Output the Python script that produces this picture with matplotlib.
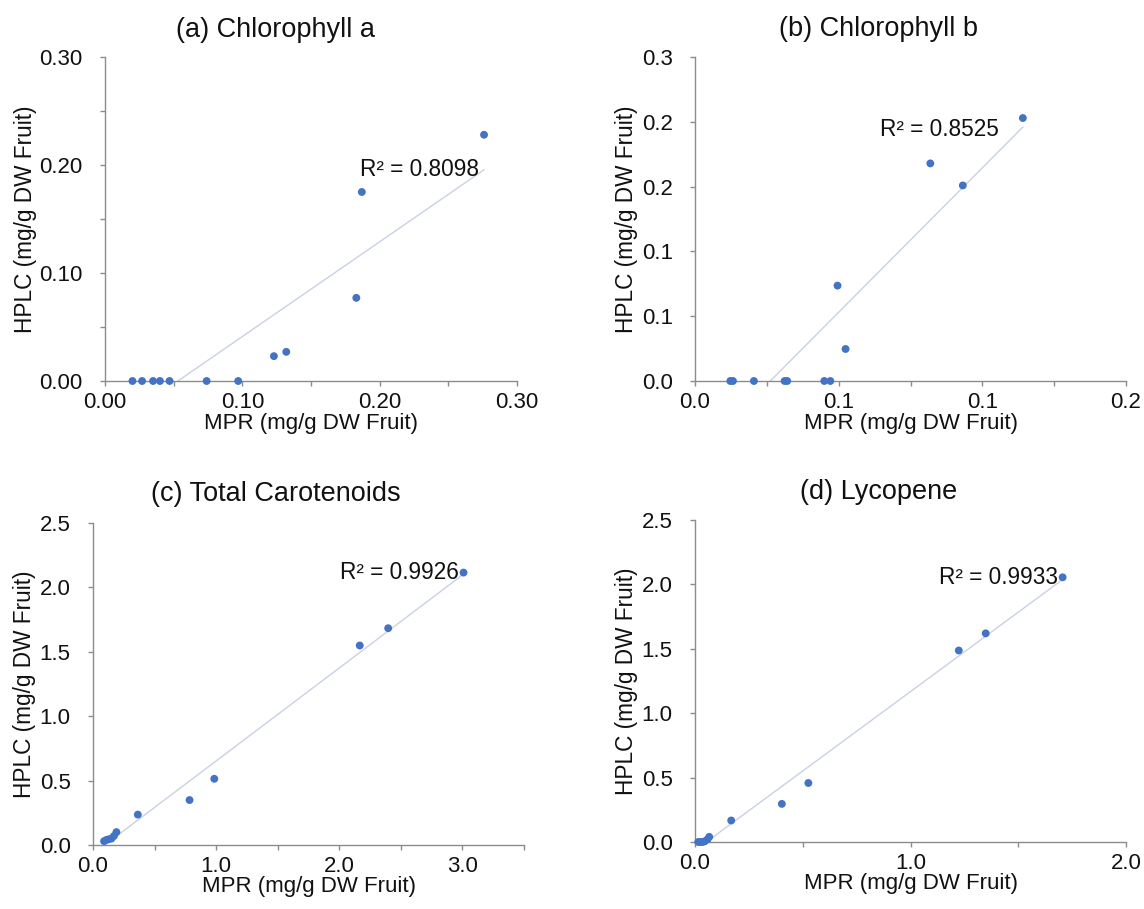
import numpy as np
import matplotlib
matplotlib.use("Agg")
import matplotlib.pyplot as plt
from matplotlib.ticker import FixedLocator

plt.rcParams['font.family'] = ['Liberation Sans', 'DejaVu Sans']

# ---- data ----
titles = ["(a) Chlorophyll a", "(b) Chlorophyll b", "(c) Total Carotenoids", "(d) Lycopene"]
r2_texts = ["R² = 0.8098", "R² = 0.8525", "R² = 0.9926", "R² = 0.9933"]
xlabel = "MPR (mg/g DW Fruit)"
ylabel = "HPLC (mg/g DW Fruit)"

mpr_a = [0.020, 0.027, 0.035, 0.040, 0.047, 0.074, 0.097, 0.123, 0.132, 0.183, 0.187, 0.276]
hplc_a = [0.0, 0.0, 0.0, 0.0, 0.0, 0.0, 0.0, 0.023, 0.027, 0.077, 0.175, 0.228]

mpr_b = [0.0123, 0.0132, 0.0205, 0.0312, 0.0321, 0.0450, 0.0471, 0.0496, 0.0524, 0.0819, 0.0932, 0.1141]
hplc_b = [0.0, 0.0, 0.0, 0.0, 0.0, 0.0, 0.0, 0.0736, 0.0247, 0.1679, 0.1509, 0.2029]

mpr_c = [0.09, 0.11, 0.13, 0.15, 0.17, 0.19, 0.364, 0.784, 0.985, 2.166, 2.397, 3.009]
hplc_c = [0.03, 0.04, 0.045, 0.05, 0.07, 0.10, 0.236, 0.349, 0.514, 1.549, 1.683, 2.115]

mpr_d = [0.015, 0.025, 0.035, 0.045, 0.058, 0.066, 0.168, 0.403, 0.526, 1.224, 1.349, 1.706]
hplc_d = [0.0, 0.0, 0.0, 0.005, 0.02, 0.04, 0.167, 0.296, 0.458, 1.487, 1.620, 2.055]

# tick definitions
xt_a = [0.0, 0.10, 0.20, 0.30]; xtl_a = ["0.00", "0.10", "0.20", "0.30"]; xm_a = [0.05, 0.15, 0.25]
yt_a = [0.0, 0.10, 0.20, 0.30]; ytl_a = ["0.00", "0.10", "0.20", "0.30"]; ym_a = [0.05, 0.15, 0.25]

xt_b = [0.0, 0.05, 0.10, 0.15]; xtl_b = ["0.0", "0.1", "0.1", "0.2"]; xm_b = [0.025, 0.075, 0.125]
yt_b = [0.0, 0.05, 0.10, 0.15, 0.20, 0.25]; ytl_b = ["0.0", "0.1", "0.1", "0.2", "0.2", "0.3"]; ym_b = []

xt_c = [0.0, 1.0, 2.0, 3.0]; xtl_c = ["0.0", "1.0", "2.0", "3.0"]; xm_c = [0.5, 1.5, 2.5, 3.5]
yt_c = [0.0, 0.5, 1.0, 1.5, 2.0, 2.5]; ytl_c = ["0.0", "0.5", "1.0", "1.5", "2.0", "2.5"]; ym_c = []

xt_d = [0.0, 1.0, 2.0]; xtl_d = ["0.0", "1.0", "2.0"]; xm_d = [0.5, 1.5]
yt_d = [0.0, 0.5, 1.0, 1.5, 2.0, 2.5]; ytl_d = ["0.0", "0.5", "1.0", "1.5", "2.0", "2.5"]; ym_d = []

W, H = 1144, 909
fig = plt.figure(figsize=(W / 100, H / 100), dpi=100)

# axes rectangles in pixel space (left, top, right, bottom)
rects = [(105, 57, 517, 381), (695, 57, 1126, 381), (93, 523, 524, 845), (695, 520, 1126, 842)]
xlims = [(0, 0.30), (0, 0.15), (0, 3.5), (0, 2.0)]
ylims = [(0, 0.30), (0, 0.25), (0, 2.5), (0, 2.5)]
datasets = [(mpr_a, hplc_a), (mpr_b, hplc_b), (mpr_c, hplc_c), (mpr_d, hplc_d)]
ticks = [(xt_a, xtl_a, xm_a, yt_a, ytl_a, ym_a), (xt_b, xtl_b, xm_b, yt_b, ytl_b, ym_b),
         (xt_c, xtl_c, xm_c, yt_c, ytl_c, ym_c), (xt_d, xtl_d, xm_d, yt_d, ytl_d, ym_d)]
r2_pos = [(0.1858, 0.1956, 'left'), (0.0645, 0.1944, 'left'), (2.97, 2.115, 'right'), (1.684, 2.05, 'right')]
title_x = [0.413, 0.425, 0.424, 0.425]
title_y = [1.083, 1.086, 1.090, 1.086]
ylab_x = [-0.194, -0.160, -0.160, -0.160]
xlab_pad = [0, 0, -1, -1]

spine_c = '#8c8c8c'
pt_c = '#4472C4'
line_c = '#c9d1e3'
txt_c = '#111111'

for i in range(4):
    l, t, r, b = rects[i]
    ax = fig.add_axes([l / W, (H - b) / H, (r - l) / W, (b - t) / H])
    x, y = np.array(datasets[i][0]), np.array(datasets[i][1])
    k, c0 = np.polyfit(x, y, 1)
    xs = np.array([x.min(), x.max()])
    ax.plot(xs, k * xs + c0, color=line_c, lw=1.0, zorder=2)
    ax.scatter(x, y, s=32, color=pt_c, edgecolors='none', zorder=3, clip_on=False)
    ax.set_xlim(*xlims[i]); ax.set_ylim(*ylims[i])
    xt, xtl, xm, yt, ytl, ym = ticks[i]
    ax.set_xticks(xt); ax.set_xticklabels(xtl)
    ax.set_yticks(yt); ax.set_yticklabels(ytl)
    ax.xaxis.set_minor_locator(FixedLocator(xm))
    ax.yaxis.set_minor_locator(FixedLocator(ym))
    for s in ['top', 'right']:
        ax.spines[s].set_visible(False)
    for s in ['left', 'bottom']:
        ax.spines[s].set_color(spine_c)
        ax.spines[s].set_linewidth(1.0)
    ax.tick_params(which='both', direction='out', length=3.6, width=1.0, color=spine_c,
                   labelsize=16, labelcolor=txt_c)
    ax.tick_params(axis='x', which='both', pad=4.5)
    ax.tick_params(axis='y', which='both', pad=12.5)
    ax.set_xlabel(xlabel, fontsize=16, color=txt_c, labelpad=xlab_pad[i])
    ax.set_ylabel(ylabel, fontsize=16.3, color=txt_c, va='center')
    ax.yaxis.set_label_coords(ylab_x[i], 0.5)
    ax.set_title(titles[i], fontsize=19.5, color=txt_c, x=title_x[i], y=title_y[i],
                 va='center', pad=0)
    tx, ty, ha = r2_pos[i]
    ax.text(tx, ty, r2_texts[i], fontsize=16.3, ha=ha, va='center', color=txt_c, zorder=4)
    ax.set_facecolor('white')

fig.savefig("out.png", dpi=100, facecolor='white')
